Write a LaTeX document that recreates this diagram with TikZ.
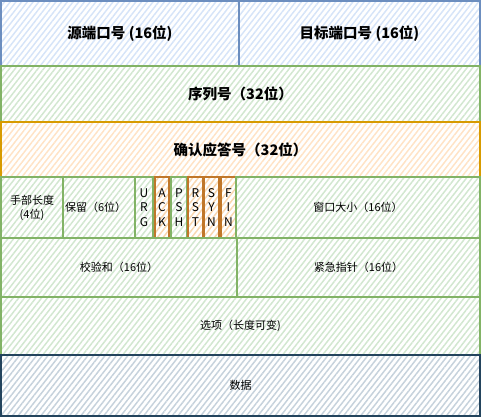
\documentclass[tikz,border=0pt]{standalone}
\usepackage{fontspec}
\setmainfont{Noto Sans CJK SC}
\usetikzlibrary{patterns.meta,positioning}
\definecolor{blueline}{HTML}{6C8EBF}
\definecolor{bluefill}{HTML}{D6E4F8}
\definecolor{greenline}{HTML}{82B366}
\definecolor{greenfill}{HTML}{D2E7D0}
\definecolor{orangeline}{HTML}{D79B00}
\definecolor{orangefill}{HTML}{FFE3C6}
\definecolor{flagline}{HTML}{C0772A}
\definecolor{flagfill}{HTML}{F9D7B0}
\definecolor{dataline}{HTML}{23445D}
\definecolor{datafill}{HTML}{C6D2DC}
\tikzset{field/.style 2 args={draw=#1,line width=1.2pt,
  pattern={Lines[angle=52,distance=4.5pt,line width=1.5pt]},pattern color=#2,
  inner sep=0pt,outer sep=0pt,anchor=north west,align=center}}
\tikzset{big/.style={font=\fontsize{14.5}{17}\selectfont\bfseries}}
\tikzset{small/.style={font=\fontsize{11}{14}\selectfont}}
\tikzset{flag/.style={font=\fontsize{12}{14.5}\selectfont}}

\begin{document}
\begin{tikzpicture}[x=1pt,y=-1pt]
\useasboundingbox (0,0) rectangle (482,417);
% first word: ports
\node (src) [field={blueline}{bluefill},big,minimum width=238,minimum height=65] at (1,1) {源端口号 (16位)};
\node (dst) [field={blueline}{bluefill},big,minimum width=241,minimum height=65] at (239,1) {目标端口号 (16位)};
%
\node (seq) [field={greenline}{greenfill},big,minimum width=479,minimum height=56] at (1,66) {序列号（32位）};
\node (ack) [field={orangeline}{orangefill},big,minimum width=479,minimum height=55] at (1,122) {确认应答号（32位）};
% header length, reserved, flags, window
\node (hlen) [field={greenline}{greenfill},small,minimum width=62,minimum height=61] at (1,177) {手部长度\\(4位)};
\node (rsv) [field={greenline}{greenfill},small,minimum width=72,minimum height=61,anchor=west,text width=68,align=left] at (63,207.5) {保留（6位）};
\node (urg) [field={greenline}{greenfill},flag,minimum width=18,minimum height=61] at (135,177) {U\\R\\G};
\node (ackf) [field={flagline}{flagfill},flag,minimum width=14,minimum height=61] at (155,177) {A\\C\\K};
\node (psh) [field={greenline}{greenfill},flag,minimum width=16,minimum height=61] at (171,177) {P\\S\\H};
\node (rst) [field={flagline}{flagfill},flag,minimum width=15,minimum height=61] at (188,177) {R\\S\\T};
\node (syn) [field={flagline}{flagfill},flag,minimum width=15,minimum height=61] at (204,177) {S\\Y\\N};
\node (fin) [field={flagline}{flagfill},flag,minimum width=15,minimum height=61] at (221,177) {F\\I\\N};
\node (win) [field={greenline}{greenfill},small,minimum width=244,minimum height=61] at (236,177) {窗口大小（16位）};
% checksum, urgent pointer
\node (csum) [field={greenline}{greenfill},small,minimum width=236,minimum height=59] at (1,238) {校验和（16位）};
\node (urgp) [field={greenline}{greenfill},small,minimum width=243,minimum height=59] at (237,238) {紧急指针（16位）};
%
\node (opt) [field={greenline}{greenfill},small,minimum width=479,minimum height=58] at (1,297) {选项（长度可变)};
\node (data) [field={dataline}{datafill},small,minimum width=479,minimum height=61] at (1,355) {数据};
\end{tikzpicture}
\end{document}
